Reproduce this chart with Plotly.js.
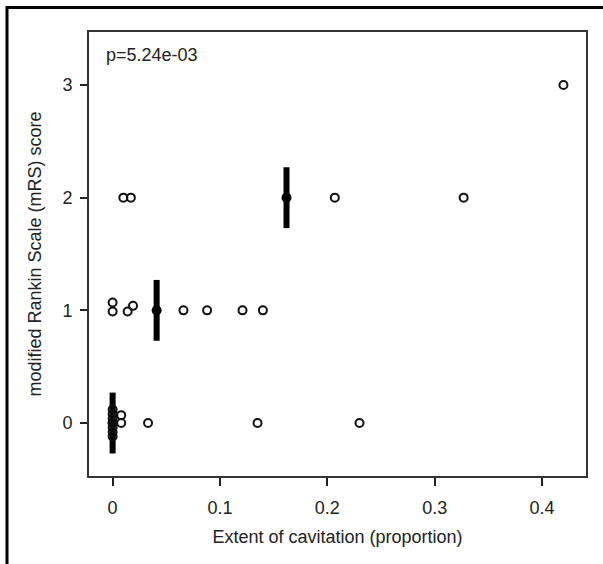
<!DOCTYPE html>
<html>
<head>
<meta charset="utf-8">
<script src="https://cdn.plot.ly/plotly-3.0.1.min.js"></script>
<style>
html,body{margin:0;padding:0;background:#fff;}
#chart{width:603px;height:564px;}
</style>
</head>
<body>
<div id="chart"></div>
<script>
// Observed points (x = extent of cavitation, y = mRS score with small vertical jitter)
var pointsX = [0, 0, 0, 0, 0, 0, 0, 0.008, 0.008, 0.033, 0.135, 0.230,
               0, 0, 0.014, 0.019, 0.066, 0.088, 0.121, 0.140,
               0.010, 0.017, 0.207, 0.327,
               0.420];
var pointsY = [0.12, 0.08, 0.04, 0, -0.04, -0.08, -0.12, 0.07, 0, 0, 0, 0,
               1.07, 0.99, 0.99, 1.04, 1, 1, 1, 1,
               2, 2, 2, 2,
               3];
// Summary marks per mRS group
var summaryX = [0, 0.041, 0.162];
var summaryY = [0, 1, 2];
var summaryHalf = [0.27, 0.27, 0.27];
var xTicks = [0, 0.1, 0.2, 0.3, 0.4];
var xTickText = ['0', '0.1', '0.2', '0.3', '0.4'];
var yTicks = [0, 1, 2, 3];
var yTickText = ['0', '1', '2', '3'];
var pLabel = 'p=5.24e-03';

var font = {family: 'Liberation Sans, Arial, sans-serif', size: 18, color: '#222'};

var traces = [
  {
    x: summaryX, y: summaryY, type: 'scatter', mode: 'markers',
    marker: {symbol: 'circle', size: 10, color: '#000'},
    error_y: {type: 'data', array: summaryHalf, symmetric: true, thickness: 6, width: 0, color: '#000'},
    hoverinfo: 'skip', showlegend: false
  },
  {
    x: pointsX, y: pointsY, type: 'scatter', mode: 'markers',
    marker: {symbol: 'circle-open', size: 8, color: '#111', line: {width: 2, color: '#111'}},
    showlegend: false
  }
];

var L = 89, R = 17, T = 32, B = 88, W = 603, H = 564;
var pw = W - L - R, ph = H - T - B;
function px2x(p){ return (p - L) / pw; }
function py2y(p){ return (H - B - p) / ph; }

var layout = {
  width: W, height: H,
  margin: {l: L, r: R, t: T, b: B, pad: 0},
  paper_bgcolor: '#fff', plot_bgcolor: '#fff',
  font: font,
  showlegend: false,
  xaxis: {
    range: [-0.022, 0.441],
    tickvals: xTicks, ticktext: xTickText,
    ticks: 'outside', ticklen: 8, tickwidth: 2, tickcolor: '#222',
    ticklabelstandoff: 6,
    showline: true, mirror: true, linewidth: 2, linecolor: '#333',
    showgrid: false, zeroline: false,
    tickfont: font,
    title: {text: 'Extent of cavitation (proportion)', font: font, standoff: 14}
  },
  yaxis: {
    range: [-0.47, 3.47],
    tickvals: yTicks, ticktext: yTickText,
    ticks: 'outside', ticklen: 7, tickwidth: 2, tickcolor: '#222',
    ticklabelstandoff: 4,
    showline: true, mirror: true, linewidth: 2, linecolor: '#333',
    showgrid: false, zeroline: false,
    tickfont: font,
    title: {text: 'modified Rankin Scale (mRS) score', font: font, standoff: 16}
  },
  annotations: [{
    text: pLabel, xref: 'paper', yref: 'paper',
    x: px2x(104), y: py2y(55), xanchor: 'left', yanchor: 'middle',
    showarrow: false, font: font
  }],
  shapes: [{
    type: 'rect', xref: 'paper', yref: 'paper',
    x0: px2x(7), x1: px2x(640), y0: py2y(600), y1: py2y(7.5),
    line: {color: '#000', width: 3}, fillcolor: 'rgba(0,0,0,0)', layer: 'above'
  }]
};

Plotly.newPlot('chart', traces, layout, {staticPlot: true, displayModeBar: false});
</script>
</body>
</html>
